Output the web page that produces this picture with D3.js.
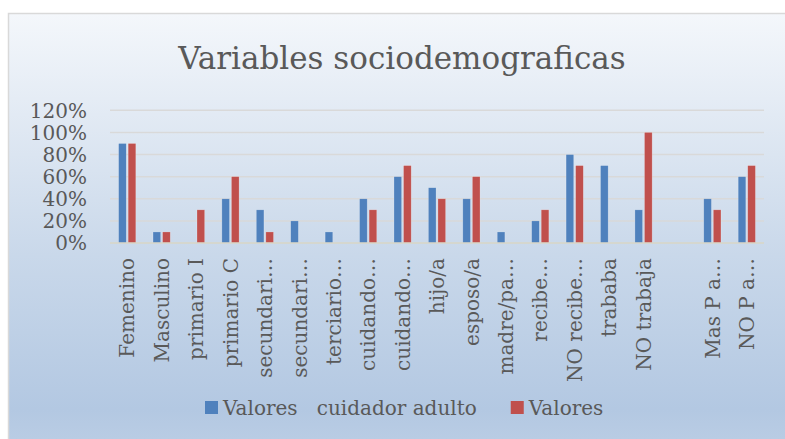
<!DOCTYPE html>
<meta charset="utf-8">
<style>
body { margin: 0; background: #fff; }
text { font-family: "DejaVu Serif", serif; fill: #595959; }
.grid line { stroke: #d9d9d9; stroke-width: 1.5; }
</style>
<body>
<script src="https://d3js.org/d3.v7.min.js"></script>
<script>
var categories = ["Femenino", "Masculino", "primario I", "primario C", "secundari\u2026",
  "secundari\u2026", "terciario\u2026", "cuidando\u2026", "cuidando\u2026", "hijo/a", "esposo/a",
  "madre/pa\u2026", "recibe\u2026", "NO recibe\u2026", "trababa", "NO trabaja", "", "Mas P a\u2026", "NO P a\u2026"];
var cuidador = [0.9, 0.1, 0, 0.4, 0.3, 0.2, 0.1, 0.4, 0.6, 0.5, 0.4, 0.1, 0.2, 0.8, 0.7, 0.3, 0, 0.4, 0.6];
var valores  = [0.9, 0.1, 0.3, 0.6, 0.1, 0, 0, 0.3, 0.7, 0.4, 0.6, 0, 0.3, 0.7, 0, 1.0, 0, 0.3, 0.7];
var seriesNames = ["Valores   cuidador adulto", "Valores"];
var colors = ["#4f81bd", "#c0504d"];
var yTicks = [0, 0.2, 0.4, 0.6, 0.8, 1.0, 1.2];

var W = 785, H = 439;
var svg = d3.select("body").append("svg").attr("width", W).attr("height", H);

var grad = svg.append("defs").append("linearGradient")
  .attr("id", "bg").attr("x1", 0).attr("y1", 0).attr("x2", 0).attr("y2", 1);
grad.append("stop").attr("offset", "0").attr("stop-color", "#f4f7fb");
grad.append("stop").attr("offset", "0.55").attr("stop-color", "#c9d8ea");
grad.append("stop").attr("offset", "0.9").attr("stop-color", "#b3c8e2");
grad.append("stop").attr("offset", "1").attr("stop-color", "#bccee5");

// chart frame runs off the right and bottom of the picture
svg.append("rect")
  .attr("x", 8.5).attr("y", 13.5)
  .attr("width", 800).attr("height", 440)
  .attr("fill", "url(#bg)")
  .attr("stroke", "#d9d9d9").attr("stroke-width", 1.5);

svg.append("text")
  .attr("x", 402).attr("y", 69)
  .attr("text-anchor", "middle")
  .style("font-size", "31px")
  .text("Variables sociodemograficas");

var plotL = 110, plotR = 764, plotT = 110.3, plotB = 243;

var y = d3.scaleLinear().domain([0, 1.2]).range([plotB, plotT]);
var x0 = d3.scaleBand().domain(d3.range(categories.length)).range([plotL, plotR])
  .paddingInner(0.5).paddingOuter(0.25);
var x1 = d3.scaleBand().domain([0, 1]).range([0, x0.bandwidth()]).paddingInner(0.2);

// gridlines
svg.append("g").attr("class", "grid")
  .selectAll("line").data(yTicks.slice(1)).enter().append("line")
  .attr("x1", plotL).attr("x2", plotR)
  .attr("y1", function(d) { return y(d); }).attr("y2", function(d) { return y(d); });

// y labels
svg.append("g").selectAll("text").data(yTicks).enter().append("text")
  .attr("x", 87).attr("y", function(d) { return y(d); })
  .attr("dy", "0.36em")
  .attr("text-anchor", "end")
  .style("font-size", "20px")
  .text(d3.format(".0%"));

// bars
var series = [cuidador, valores];
series.forEach(function(vals, s) {
  svg.append("g").selectAll("rect").data(vals).enter().append("rect")
    .attr("x", function(d, i) { return x0(i) + x1(s); })
    .attr("width", x1.bandwidth())
    .attr("y", function(d) { return y(d); })
    .attr("height", function(d) { return plotB - y(d); })
    .attr("fill", colors[s])
    .attr("stroke", "rgba(255,255,255,0.35)").attr("stroke-width", 0.6);
});

// x axis line
svg.append("line")
  .attr("x1", plotL).attr("x2", plotR).attr("y1", plotB).attr("y2", plotB)
  .attr("stroke", "#d8d6c6").attr("stroke-width", 1.5);

// category labels
svg.append("g").selectAll("text").data(categories).enter().append("text")
  .attr("transform", function(d, i) {
    return "translate(" + (x0(i) + x0.bandwidth() / 2) + ",258) rotate(-90)";
  })
  .attr("dy", "0.36em")
  .attr("text-anchor", "end")
  .style("font-size", "20px")
  .text(function(d) { return d; });

// legend
var legend = svg.append("g");
var lx = 205;
seriesNames.forEach(function(name, s) {
  legend.append("rect").attr("x", lx).attr("y", 401).attr("width", 13).attr("height", 13)
    .attr("fill", colors[s]);
  var t = legend.append("text").attr("x", lx + 18).attr("y", 415)
    .style("font-size", "20px").style("white-space", "pre")
    .text(name);
  lx += 18 + t.node().getComputedTextLength() + 34;
});
</script>
</body>
